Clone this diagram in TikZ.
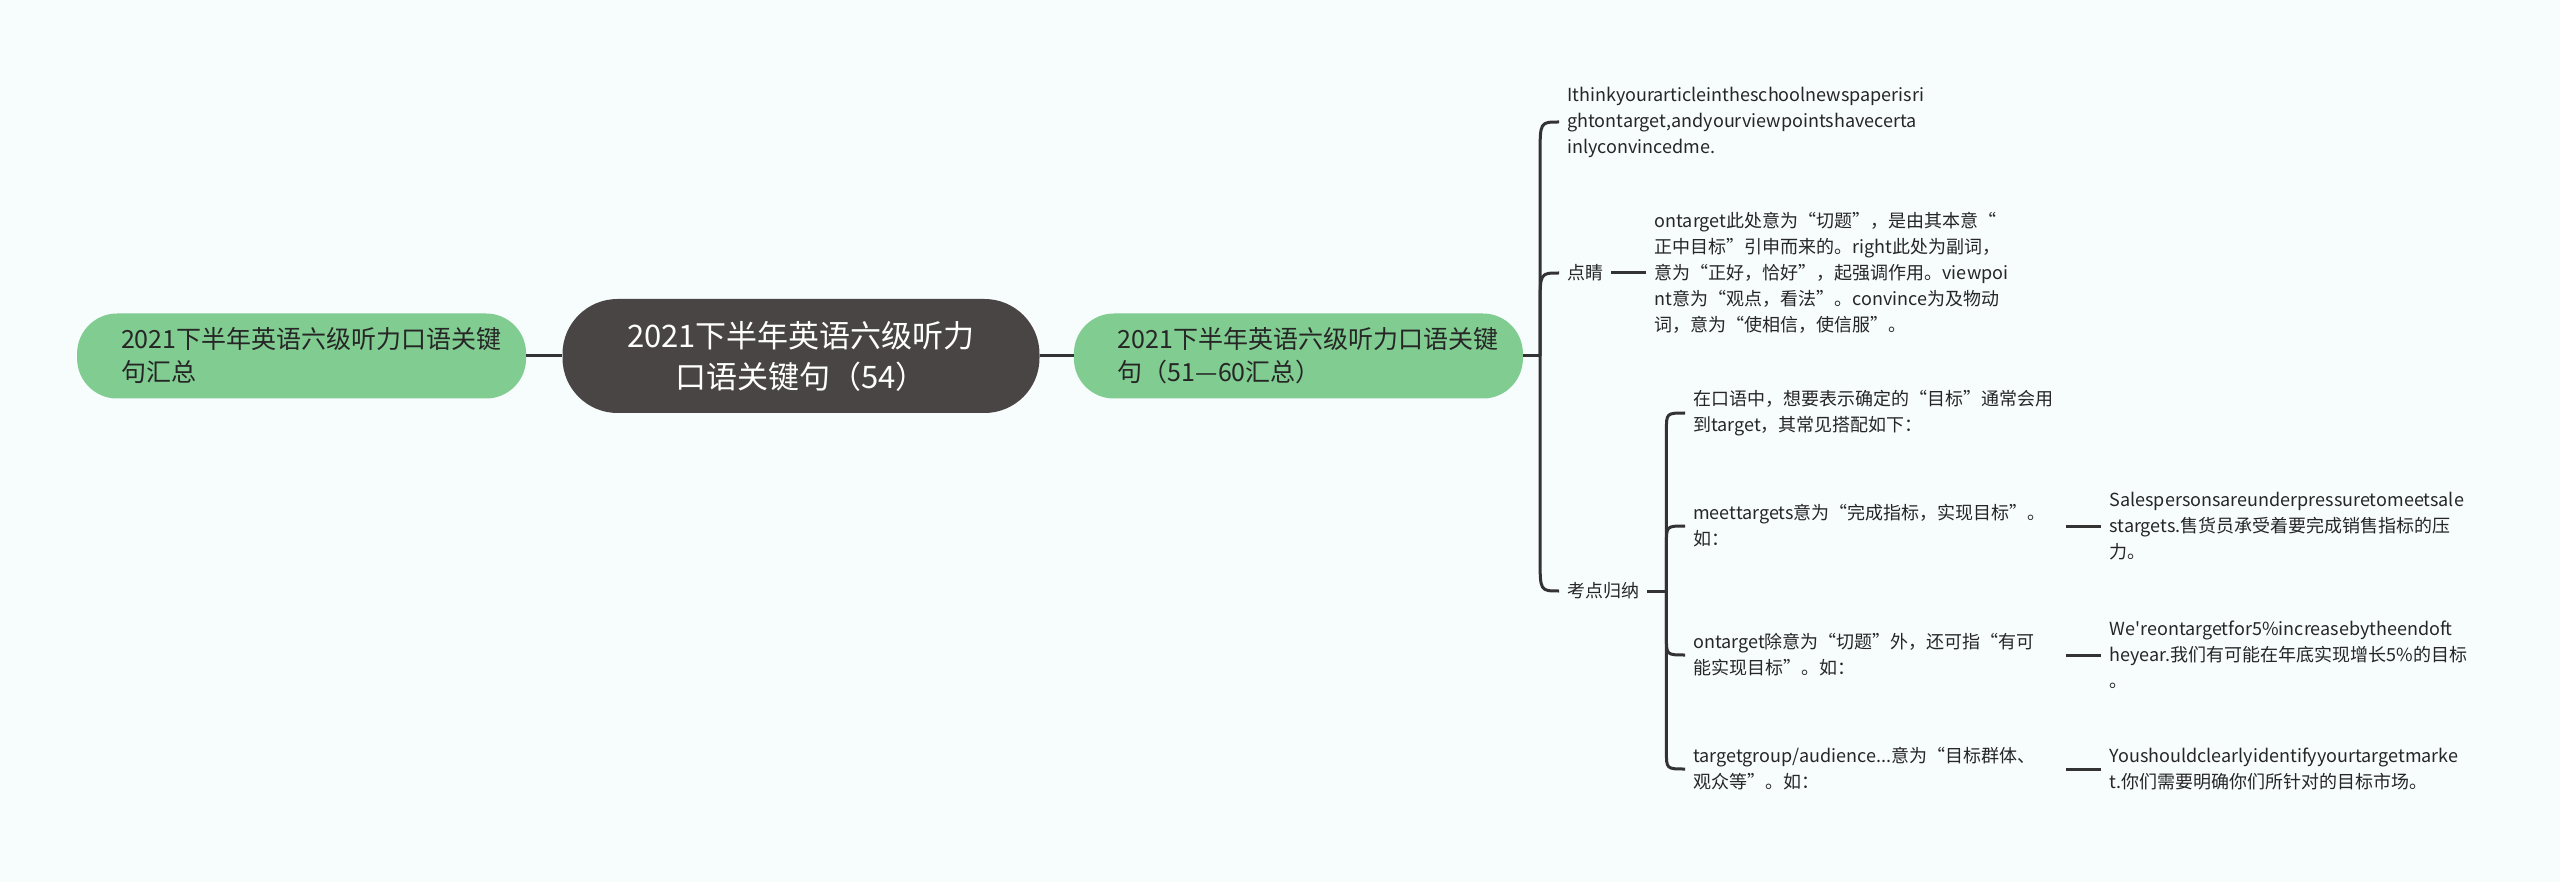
\documentclass[tikz,border=0pt]{standalone}
\usepackage{fontspec}
\setmainfont{Noto Sans CJK SC}[Ligatures=TeXOff]
\usepackage{tikz}
\usetikzlibrary{positioning,calc}
\definecolor{bgcolor}{RGB}{247,252,253}
\definecolor{topiccolor}{RGB}{74,69,69}
\definecolor{branchcolor}{RGB}{128,204,145}
\definecolor{linecolor}{RGB}{51,51,51}
\definecolor{txtcolor}{RGB}{38,38,38}
\tikzset{
	topic/.style={fill=topiccolor, text=white, rounded corners=55pt, minimum width=477pt, minimum height=114pt, align=center, font=\fontsize{31}{41}\selectfont},
	branch/.style={fill=branchcolor, text=txtcolor, rounded corners=40pt, minimum height=85pt, text width=361pt, inner xsep=44pt, align=left, font=\fontsize{25}{33}\selectfont},
	textnode/.style={text=txtcolor, inner xsep=8pt, inner ysep=4pt, align=left, font=\fontsize{18}{26}\selectfont},
	pointnode/.style={textnode, text width=365pt},
	conn/.style={draw=linecolor, line width=3pt}
}
\begin{document}
\begin{tikzpicture}[x=1pt,y=-1pt]
\fill[bgcolor] (0,0) rectangle (2560,882);
% main nodes
\node[topic] (topic) at (801,356) {2021下半年英语六级听力\\口语关键句（54）};
\node[branch, left=36pt of topic] (summary) {2021下半年英语六级听力口语关键\\句汇总};
\node[branch, right=34pt of topic] (part) {2021下半年英语六级听力口语关键\\句（51—60汇总）};
\draw[conn] (summary) -- (topic);
\draw[conn] (topic) -- (part);

% right side
\node[textnode, anchor=west] (ithink) at (1559,122) {Ithinkyourarticleintheschoolnewspaperisri\\ghtontarget,andyourviewpointshavecerta\\inlyconvincedme.};
\node[textnode, anchor=west] (dianjing) at (1559,273) {点睛};
\node[textnode, right=35pt of dianjing] (dianjingtxt) {ontarget此处意为“切题”，是由其本意“\\正中目标”引申而来的。right此处为副词，\\意为“正好，恰好”，起强调作用。viewpoi\\nt意为“观点，看法”。convince为及物动\\词，意为“使相信，使信服”。};
\node[textnode, anchor=west] (kaodian) at (1559,591) {考点归纳};

\coordinate (j) at ($(part.east)+(17,0)$);
\draw[conn] (part.east) -- (j);
\draw[conn] (j) -- ($(j |- ithink.west)+(0,32)$) .. controls (j |- ithink.west) .. (ithink.west);
\draw[conn] (j) -- ($(j |- dianjing.west)+(0,32)$) .. controls (j |- dianjing.west) .. (dianjing.west);
\draw[conn] (j) -- ($(j |- kaodian.west)+(0,-32)$) .. controls (j |- kaodian.west) .. (kaodian.west);
\draw[conn] (dianjing) -- (dianjingtxt);

% points
\node[pointnode, anchor=west] (usage) at (1685,413) {在口语中，想要表示确定的“目标”通常会用\\到target，其常见搭配如下：};
\node[pointnode, anchor=west] (meet) at (1685,526) {meettargets意为“完成指标，实现目标”。\\如：};
\node[pointnode, anchor=west] (ontarget) at (1685,655) {ontarget除意为“切题”外，还可指“有可\\能实现目标”。如：};
\node[pointnode, anchor=west] (group) at (1685,769) {targetgroup/audience...意为“目标群体、\\观众等”。如：};

\coordinate (k) at ($(kaodian.east)+(19,0)$);
\draw[conn] (kaodian.east) -- (k);
\draw[conn] (k) -- ($(k |- usage.west)+(0,18)$) .. controls (k |- usage.west) .. (usage.west);
\draw[conn] (k) -- ($(k |- meet.west)+(0,18)$) .. controls (k |- meet.west) .. (meet.west);
\draw[conn] (k) -- ($(k |- ontarget.west)+(0,-18)$) .. controls (k |- ontarget.west) .. (ontarget.west);
\draw[conn] (k) -- ($(k |- group.west)+(0,-18)$) .. controls (k |- group.west) .. (group.west);

% examples
\node[textnode, right=35pt of meet] (meetex) {Salespersonsareunderpressuretomeetsale\\stargets.售货员承受着要完成销售指标的压\\力。};
\node[textnode, right=35pt of ontarget] (ontargetex) {We'reontargetfor5\%increasebytheendoft\\heyear.我们有可能在年底实现增长5\%的目标\\。};
\node[textnode, right=35pt of group] (groupex) {Youshouldclearlyidentifyyourtargetmarke\\t.你们需要明确你们所针对的目标市场。};
\draw[conn] (meet.east) -- (meetex.west);
\draw[conn] (ontarget.east) -- (ontargetex.west);
\draw[conn] (group.east) -- (groupex.west);
\end{tikzpicture}
\end{document}
